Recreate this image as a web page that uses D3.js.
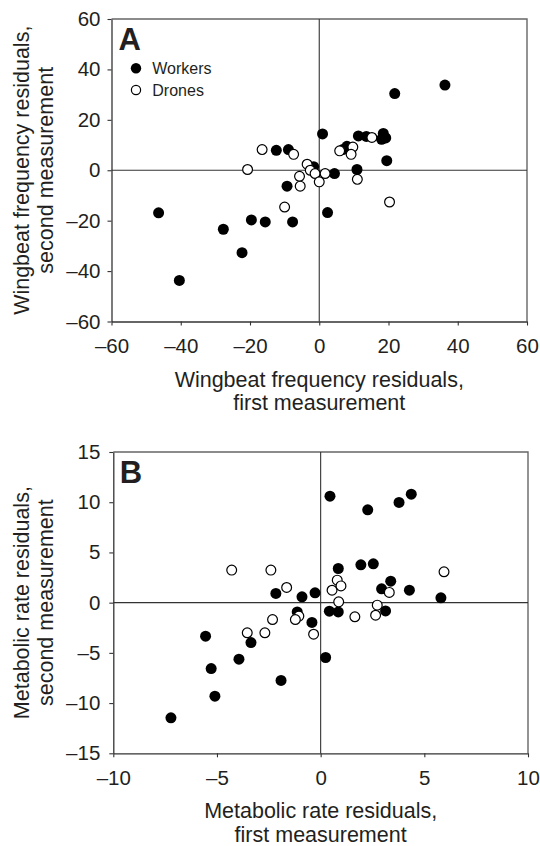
<!DOCTYPE html>
<html>
<head>
<meta charset="utf-8">
<script src="https://cdn.jsdelivr.net/npm/d3@7"></script>
<style>
  html, body { margin: 0; padding: 0; background: #fff; }
  svg { display: block; }
  text { font-family: "Liberation Sans", Arial, sans-serif; fill: #231f20; }
</style>
</head>
<body>
<svg id="chart" width="540" height="846"></svg>
<script>
const workersA = [
  [21.8, 30.4], [36.3, 33.8], [0.95, 14.4], [11.3, 13.6], [13.6, 13.4],
  [18.5, 14.6], [18.0, 12.3], [19.2, 12.8], [-12.4, 7.9], [-8.9, 8.2],
  [6.8, 8.2], [8.0, 9.5], [19.5, 3.8], [-1.6, 1.4], [4.4, -1.3],
  [10.9, 0.3], [2.4, -16.8], [-9.3, -6.3], [-46.4, -16.9], [-19.6, -19.7],
  [-15.6, -20.5], [-7.7, -20.5], [-27.7, -23.4], [-22.3, -32.7], [-40.4, -43.7]
];
const dronesA = [
  [-16.5, 8.2], [-7.4, 6.3], [-20.7, 0.3], [-3.5, 2.4], [-2.6, 0],
  [-1.2, -1.3], [0, -4.6], [1.7, -1.3], [-5.7, -2.4], [-5.5, -6.3],
  [-10.0, -14.6], [5.9, 7.7], [9.7, 9.2], [9.2, 6.3], [15.2, 13.0],
  [11.0, -3.6], [20.3, -12.6]
];
const workersB = [
  [0.45, 10.6], [2.27, 9.24], [3.78, 9.98], [4.37, 10.8], [0.85, 3.4],
  [1.94, 3.77], [2.54, 3.87], [-2.16, 0.92], [-0.9, 0.58], [-1.13, -0.92],
  [-0.42, -1.97], [-5.55, -3.34], [-3.36, -3.97], [-3.94, -5.63], [-5.28, -6.56],
  [-1.91, -7.75], [-5.1, -9.31], [-7.22, -11.47], [-0.27, 0.98], [0.42, -0.85],
  [0.85, -0.92], [3.38, 2.14], [2.94, 1.38], [4.28, 1.24], [5.8, 0.48],
  [3.13, -0.82], [0.24, -5.46]
];
const dronesB = [
  [-4.29, 3.24], [-2.4, 3.24], [5.95, 3.07], [-1.64, 1.51], [-1.05, -1.34],
  [-1.22, -1.68], [-2.32, -1.68], [-3.54, -3.0], [-2.69, -3.0], [-0.34, -3.14],
  [0.8, 2.24], [0.98, 1.67], [0.55, 1.24], [0.87, 0.08], [1.65, -1.41],
  [3.31, 1.02], [2.73, -0.25], [2.65, -1.25]
];

const ticksA = [-60, -40, -20, 0, 20, 40, 60];
const ticksBx = [-10, -5, 0, 5, 10];
const ticksBy = [-15, -10, -5, 0, 5, 10, 15];

const legendLabels = ["Workers", "Drones"];

const svg = d3.select("#chart");
const fmt = (d) => (d < 0 ? "\u2013" + Math.abs(d) : String(d));

function drawPanel(opt) {
  const x = d3.scaleLinear().domain(opt.xDomain).range([opt.left, opt.right]);
  const y = d3.scaleLinear().domain(opt.yDomain).range([opt.bottom, opt.top]);
  const g = svg.append("g");

  // frame (top + right)
  g.append("path")
    .attr("d", `M${opt.left},${opt.top}H${opt.right}V${opt.bottom}`)
    .attr("fill", "none")
    .attr("stroke", "#666")
    .attr("stroke-width", 1.4);

  // zero lines
  g.append("line")
    .attr("x1", opt.left).attr("x2", opt.right)
    .attr("y1", y(0)).attr("y2", y(0))
    .attr("stroke", "#333").attr("stroke-width", 1.1);
  g.append("line")
    .attr("x1", x(0)).attr("x2", x(0))
    .attr("y1", opt.top).attr("y2", opt.bottom)
    .attr("stroke", "#333").attr("stroke-width", 1.1);

  // axes
  const xAxis = g.append("g")
    .attr("transform", `translate(0,${opt.bottom})`)
    .call(d3.axisBottom(x).tickValues(opt.xTicks).tickFormat(fmt)
      .tickSize(4).tickPadding(13).tickSizeOuter(0));
  const yAxis = g.append("g")
    .attr("transform", `translate(${opt.left},0)`)
    .call(d3.axisLeft(y).tickValues(opt.yTicks).tickFormat(fmt)
      .tickSize(4).tickPadding(opt.yPad).tickSizeOuter(0));
  [xAxis, yAxis].forEach((a) => {
    a.select(".domain").attr("stroke", "#333").attr("stroke-width", 1.3);
    a.selectAll(".tick line").attr("stroke", "#333").attr("stroke-width", 1.1);
    a.selectAll(".tick text")
      .attr("fill", "#231f20")
      .style("font-family", '"Liberation Sans", Arial, sans-serif')
      .style("font-size", "20.5px");
  });

  // points
  g.append("g").selectAll("circle")
    .data(opt.workers)
    .join("circle")
    .attr("cx", (d) => x(d[0]))
    .attr("cy", (d) => y(d[1]))
    .attr("r", 5.5)
    .attr("fill", "#000");
  g.append("g").selectAll("circle")
    .data(opt.drones)
    .join("circle")
    .attr("cx", (d) => x(d[0]))
    .attr("cy", (d) => y(d[1]))
    .attr("r", 4.9)
    .attr("fill", "#fff")
    .attr("stroke", "#000")
    .attr("stroke-width", 1.2);

  // panel letter
  g.append("text")
    .attr("x", opt.left + opt.letterDx)
    .attr("y", opt.top + 30.5)
    .style("font-size", "31px")
    .style("font-weight", "bold")
    .text(opt.letter);

  // x title
  const cx = (opt.left + opt.right) / 2;
  opt.xTitle.forEach((t, i) => {
    g.append("text")
      .attr("x", cx)
      .attr("y", opt.bottom + 65 + i * 23.5)
      .attr("text-anchor", "middle")
      .style("font-size", "21.5px")
      .text(t);
  });

  // y title
  const cy = (opt.top + opt.bottom) / 2;
  opt.yTitle.forEach((t, i) => {
    g.append("text")
      .attr("transform", `translate(${29 + i * 24},${cy}) rotate(-90)`)
      .attr("text-anchor", "middle")
      .style("font-size", "21.5px")
      .text(t);
  });

  return { x, y, g };
}

const panelA = drawPanel({
  letter: "A", letterDx: 7,
  left: 111.5, right: 527, top: 19, bottom: 321.5, yPad: 7,
  xDomain: [-60, 60], yDomain: [-60, 60],
  xTicks: ticksA, yTicks: ticksA,
  workers: workersA, drones: dronesA,
  xTitle: ["Wingbeat frequency residuals,", "first measurement"],
  yTitle: ["Wingbeat frequency residuals,", "second measurement"]
});

drawPanel({
  letter: "B", letterDx: 6.5,
  left: 113.3, right: 528, top: 452, bottom: 753.3, yPad: 9,
  xDomain: [-10, 10], yDomain: [-15, 15],
  xTicks: ticksBx, yTicks: ticksBy,
  workers: workersB, drones: dronesB,
  xTitle: ["Metabolic rate residuals,", "first measurement"],
  yTitle: ["Metabolic rate residuals,", "second measurement"]
});

// legend (panel A only)
const legend = panelA.g.append("g");
legendLabels.forEach((label, i) => {
  const yy = 68.3 + i * 21.7;
  legend.append("circle")
    .attr("cx", 136).attr("cy", yy)
    .attr("r", i === 0 ? 5.2 : 4.6)
    .attr("fill", i === 0 ? "#000" : "#fff")
    .attr("stroke", "#000")
    .attr("stroke-width", i === 0 ? 0 : 1.2);
  legend.append("text")
    .attr("x", 152.3).attr("y", yy + 5.8)
    .style("font-size", "16px")
    .text(label);
});
</script>
</body>
</html>
